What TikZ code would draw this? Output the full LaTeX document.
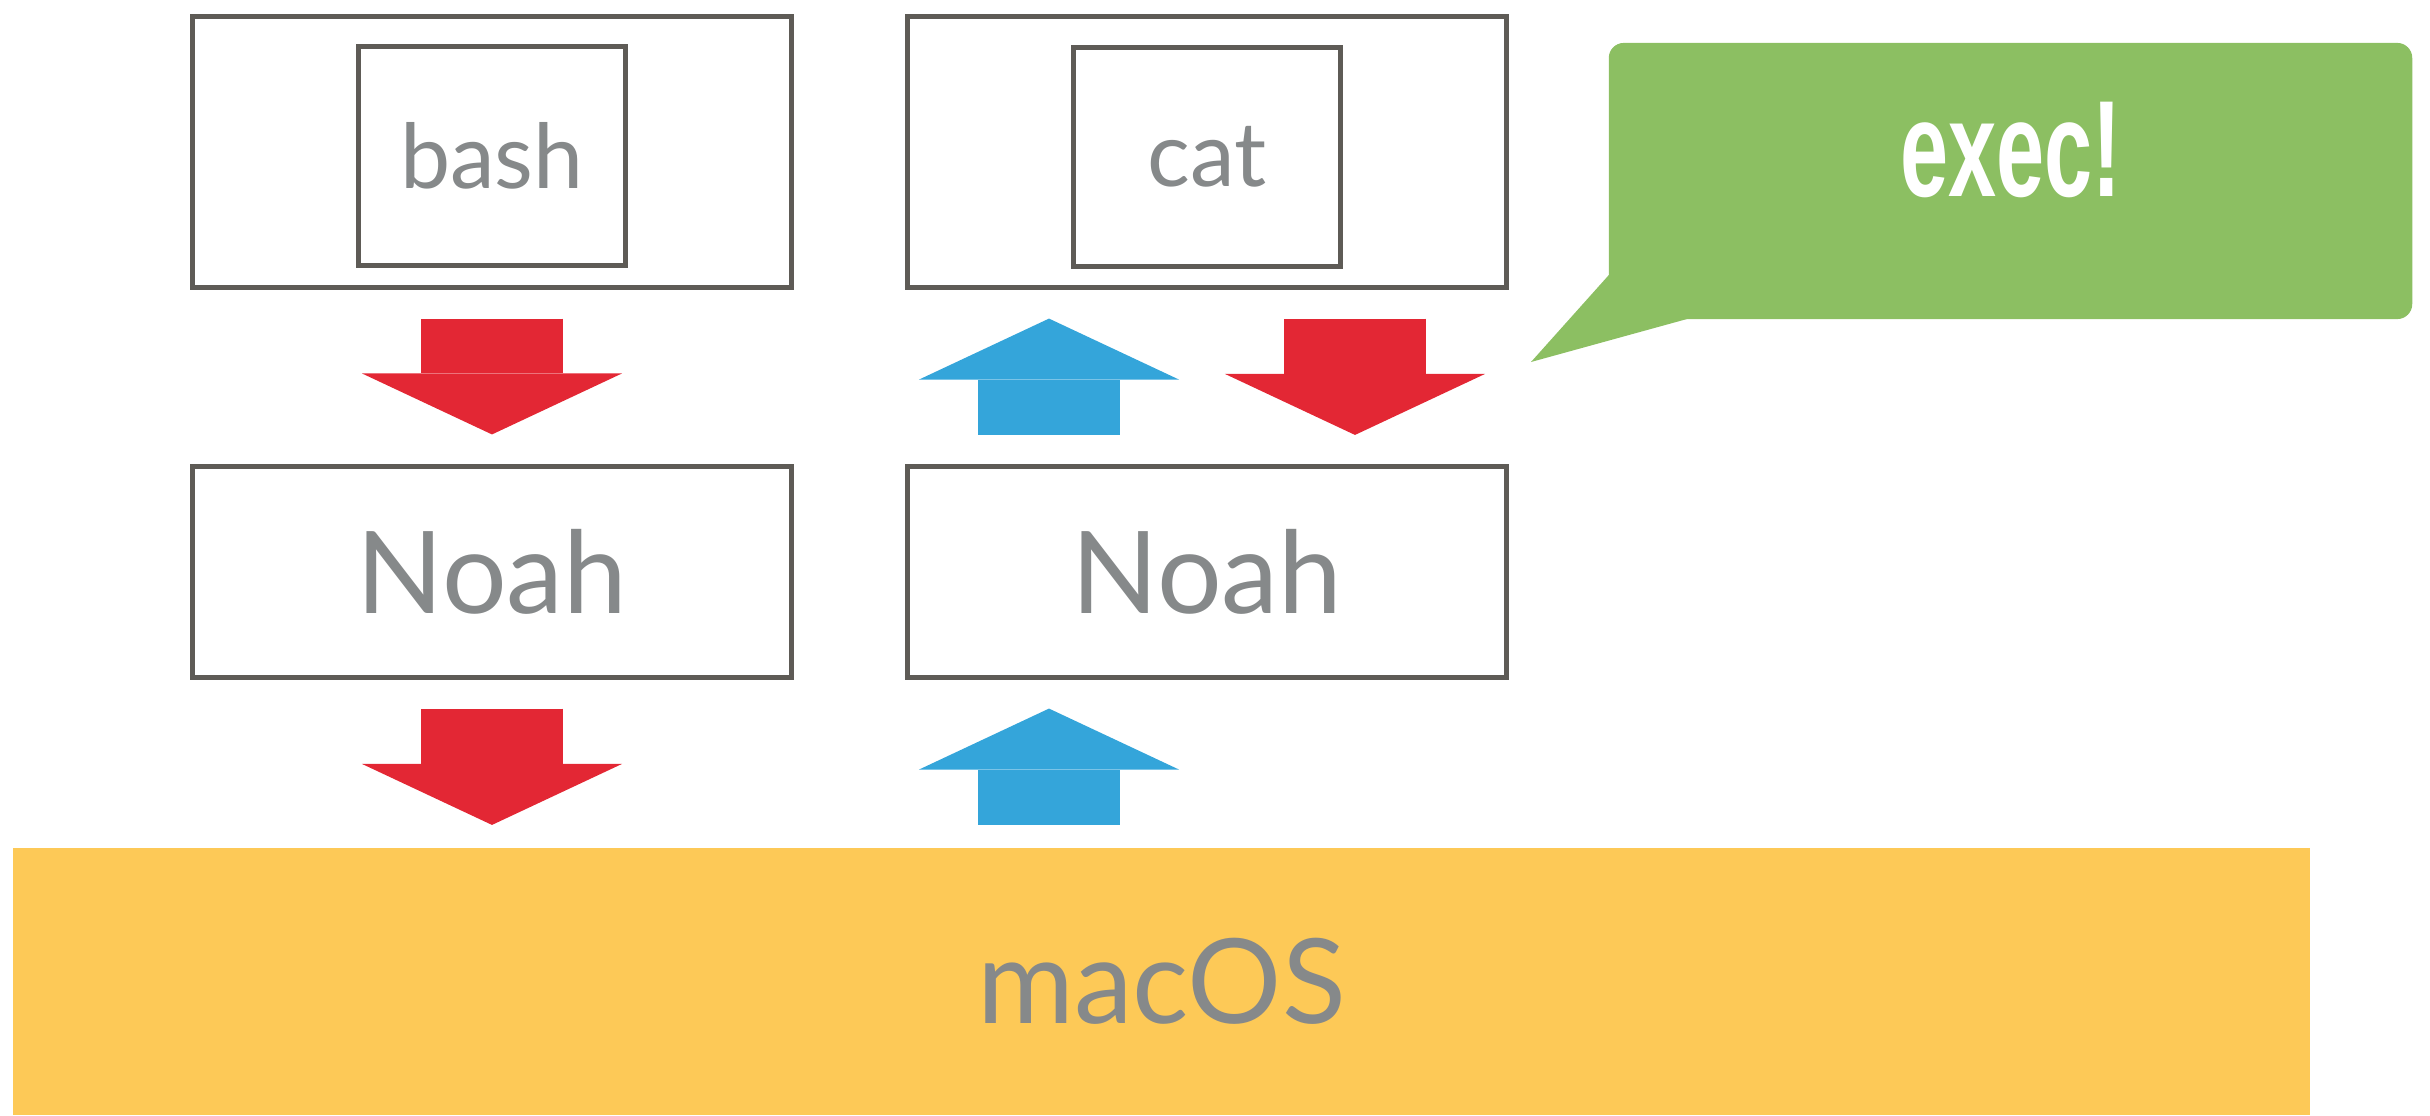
\documentclass[tikz,border=0pt]{standalone}
\usepackage{fontspec}
\setmainfont{Lato}
\newfontfamily\execfont[FakeStretch=0.63]{Liberation Sans}
\usetikzlibrary{positioning}
\usetikzlibrary{arrows.meta}
\usetikzlibrary{calc}
\definecolor{framecolor}{RGB}{94,91,86}
\definecolor{labelcolor}{RGB}{134,137,138}
\definecolor{downcolor}{RGB}{227,39,52}
\definecolor{upcolor}{RGB}{52,165,218}
\definecolor{execcolor}{RGB}{140,191,98}
\definecolor{oscolor}{RGB}{253,201,87}

\begin{document}
\begin{tikzpicture}[
    x=0.01cm, y=-0.01cm,
    outer sep=0pt,
    window/.style={rectangle, draw=framecolor, line width=1.4pt, minimum width=5.99cm, minimum height=2.7cm},
    proc/.style={rectangle, draw=framecolor, line width=1.4pt, minimum width=2.665cm, minimum height=2.18cm, text=labelcolor, font=\fontsize{25.5}{30}\selectfont},
    noahbox/.style={rectangle, draw=framecolor, line width=1.4pt, minimum width=5.99cm, minimum height=2.1cm, text=labelcolor, font=\fontsize{32.5}{38}\selectfont},
    fat/.style={draw=#1, line width=1.41cm, -{Triangle[width=2.6cm, length=0.61cm, line width=0pt]}}
]
\useasboundingbox (0,0) rectangle (2430,1115);

% Processes
\node[window] (shellwin) at (492,152) {};
\node[proc] (bash) at (492,156) {bash};
\node[window] (catwin) at (1207,152) {};
\node[proc] (cat) at (1207,157) {cat};

% Noah
\node[noahbox] (noahL) at (492,572) {Noah};
\node[noahbox] (noahR) at (1207,572) {Noah};

% Host
\node[fill=oscolor, minimum width=22.95cm, minimum height=2.67cm, text=labelcolor, font=\fontsize{33.5}{40}\selectfont] (macos) at (1161.5,981.5) {macOS};

% Callout
\node[fill=execcolor, rounded corners=0.15cm, minimum width=8.03cm, minimum height=2.76cm, text=white, font=\execfont\bfseries\fontsize{39}{45}\selectfont, text height=0.98cm, text depth=0.68cm] (exec) at (2010.5,181) {exec!};
\coordinate (calltip) at (1531,362);
\fill[execcolor] ($(exec.south west)+(0,-44)$) -- (calltip) -- ($(exec.south west)+(78,0)$) -- cycle;

% Arrows
\draw[fat=downcolor] ($(shellwin.south)+(0,31.5)$) -- ($(noahL.north)+(0,-32.5)$);
\draw[fat=upcolor] ($(noahR.north)+(-158,-32)$) -- ($(catwin.south)+(-158,31.5)$);
\draw[fat=downcolor] ($(catwin.south)+(148,31.5)$) -- ($(noahR.north)+(148,-32)$);
\draw[fat=downcolor] ($(noahL.south)+(0,31.5)$) -- ($(noahL.south |- macos.north)+(0,-23)$);
\draw[fat=upcolor] ($(noahR.south |- macos.north)+(-158,-23)$) -- ($(noahR.south)+(-158,31.5)$);
\end{tikzpicture}
\end{document}
